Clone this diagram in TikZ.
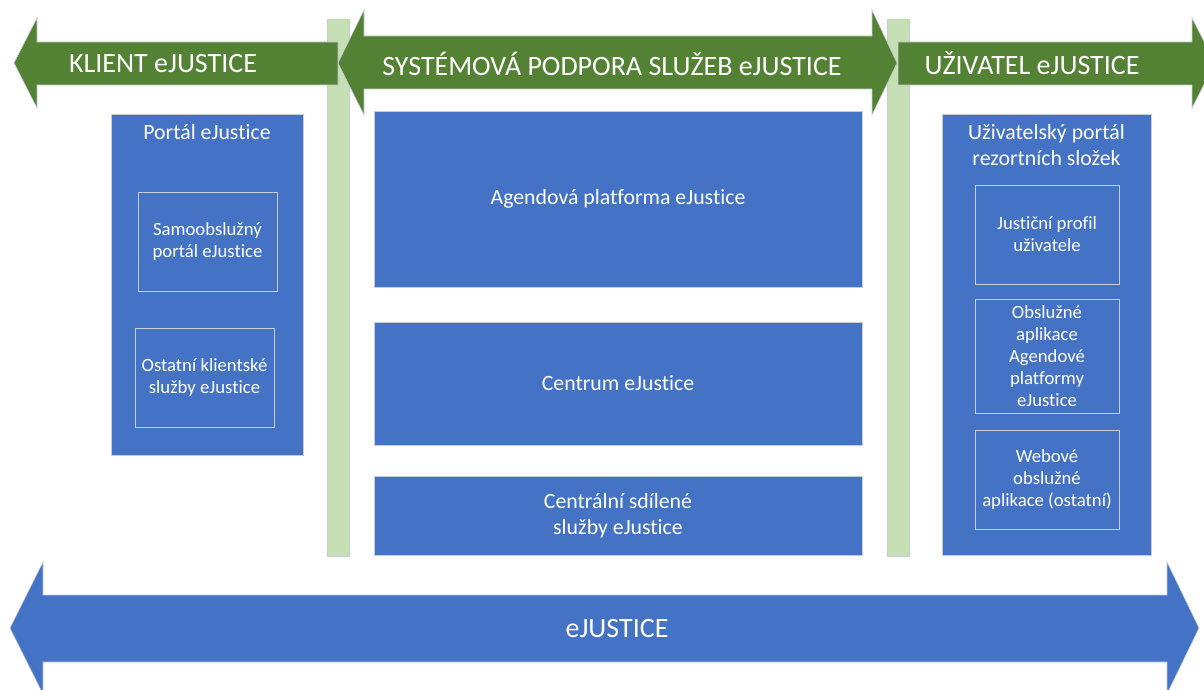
\documentclass[tikz,border=0pt]{standalone}
\usepackage{fontspec}
\setmainfont{Carlito}[Ligatures=NoCommon]

\definecolor{tmavazelena}{HTML}{548235}
\definecolor{svetlazelena}{HTML}{C5E0B4}
\definecolor{modra}{HTML}{4472C4}
\definecolor{obrys}{HTML}{C8CCD6}

\tikzstyle{blok}= [rectangle,draw=obrys,fill=modra,line width=0.8pt,inner sep=0pt]
\tikzstyle{podblok}= [rectangle,draw=obrys,line width=0.7pt,inner sep=0pt,text=white,align=center,font=\fontsize{18.7}{22}\selectfont]
\tikzstyle{pruh}= [rectangle,draw=obrys,fill=svetlazelena,line width=0.5pt,inner sep=0pt,minimum width=22,minimum height=537]
\tikzstyle{sipka}= [fill=tmavazelena,draw=obrys,line width=0.6pt]
\tikzstyle{nadpis}= [text=white,font=\fontsize{28}{32}\selectfont]
\tikzstyle{popis}= [text=white,align=center,font=\fontsize{21.8}{26}\selectfont]

\begin{document}
\begin{tikzpicture}[x=1pt,y=-1pt]
		\useasboundingbox (0,0) rectangle (1204,690);

		% svisle pruhy
		\node (p1) at (338,287.5) [pruh] {};
		\node (p2) at (898,287.5) [pruh] {};

		% zelene sipky
		\path[sipka] (14,63) -- (37,18) -- (37,42) -- (338,42) -- (338,85) -- (37,85) -- (37,108) -- cycle;
		\path[sipka] (338,63) -- (364,10) -- (364,36) -- (872,36) -- (872,10) -- (897,63)
			-- (872,115) -- (872,89) -- (364,89) -- (364,115) -- cycle;
		\path[sipka] (898,42) -- (1192,42) -- (1192,18) -- (1215,63) -- (1192,108) -- (1192,85) -- (898,85) -- cycle;

		\node (klient) at (163,63.5) [nadpis] {KLIENT eJUSTICE};
		\node (podpora) at (612,63.5) [nadpis] {SYSTÉMOVÁ PODPORA SLUŽEB eJUSTICE};
		\node (uzivatel) at (1032,63.5) [nadpis] {UŽIVATEL eJUSTICE};

		% klient
		\node (portal) at (207,284.5) [blok,minimum width=192,minimum height=341] {};
		\node at (207,132) [popis] {Portál eJustice};
		\node (samo) at (207.5,241.5) [podblok,minimum width=139,minimum height=99] {Samoobslužný\\portál eJustice};
		\node (ostatni) at (204.5,377.5) [podblok,minimum width=139,minimum height=99] {Ostatní klientské\\služby eJustice};

		% systemova podpora
		\node (agenda) at (618,199) [blok,popis,minimum width=488,minimum height=176] {Agendová platforma eJustice};
		\node (centrum) at (618,383.5) [blok,popis,minimum width=488,minimum height=123] {Centrum eJustice};
		\node (sdilene) at (618,515.5) [blok,popis,minimum width=488,minimum height=79] {Centrální sdílené\\služby eJustice};

		% uzivatel
		\node (rezort) at (1046.5,334.5) [blok,minimum width=209,minimum height=441] {};
		\node at (1046.5,145) [popis] {Uživatelský portál\\rezortních složek};
		\node (profil) at (1047,234.5) [podblok,minimum width=144,minimum height=99] {Justiční profil\\uživatele};
		\node (obsl) at (1047,356) [podblok,minimum width=144,minimum height=114] {Obslužné\\aplikace\\Agendové\\platformy\\eJustice};
		\node (web) at (1047,479.5) [podblok,minimum width=144,minimum height=99] {Webové\\obslužné\\aplikace (ostatní)};

		% spodni sipka
		\path[fill=modra,draw=obrys,line width=0.6pt] (10,628) -- (43,562) -- (43,595) -- (1167,595) -- (1167,562) -- (1199,628)
			-- (1167,694) -- (1167,662) -- (43,662) -- (43,694) -- cycle;
		\node (ejustice) at (617,629) [text=white,font=\fontsize{28}{32}\selectfont] {eJUSTICE};

	\end{tikzpicture}
\end{document}
